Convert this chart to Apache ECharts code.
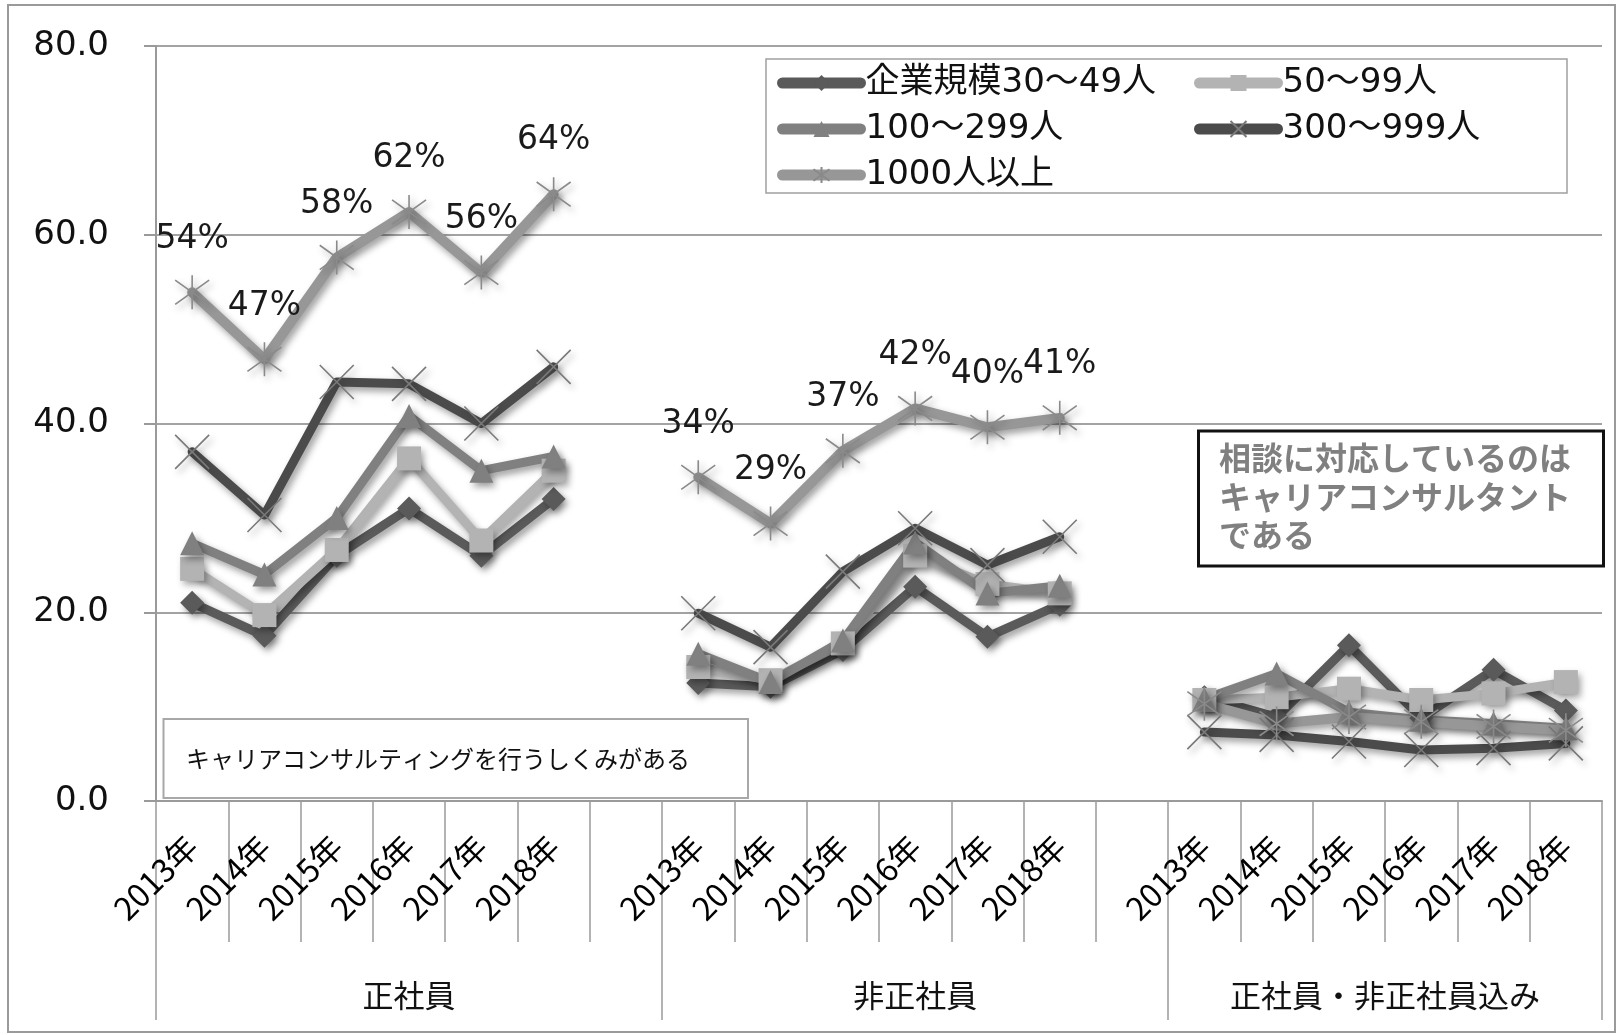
<!DOCTYPE html>
<html>
<head>
<meta charset="utf-8">
<script src="https://cdn.jsdelivr.net/npm/echarts@6/dist/echarts.min.js"></script>
<style>
  html, body { margin: 0; padding: 0; background: #fff; }
  #chart { width: 1623px; height: 1035px; }
</style>
</head>
<body>
<div id="chart"></div>
<script>
// Survey years, repeated for each employee group with a blank slot between groups
const years = ['2013年', '2014年', '2015年', '2016年', '2017年', '2018年'];
const categories = [...years, '', ...years, '', ...years];
const groupNames = ['正社員', '非正社員', '正社員・非正社員込み'];

// Share of companies (%) by company size; null marks the gap between groups
const size30to49   = [21.0, 17.5, 26.0, 31.0, 26.0, 32.0, null, 12.5, 12.1, 16.0, 22.7, 17.4, 20.8, null, 11.0,  8.9, 16.5,  8.8, 13.9,  9.6];
const size50to99   = [24.6, 19.7, 26.6, 36.3, 27.6, 35.0, null, 14.2, 12.8, 16.7, 26.0, 23.0, 22.0, null, 10.7, 11.0, 11.9, 10.7, 11.4, 12.6];
const size100to299 = [27.3, 24.0, 30.0, 40.8, 35.0, 36.5, null, 15.6, 12.6, 17.0, 27.4, 22.0, 22.8, null, 10.8, 13.5,  9.4,  8.6,  8.2,  7.7];
const size300to999 = [37.0, 30.3, 44.4, 44.2, 40.0, 46.0, null, 19.9, 16.3, 24.3, 28.9, 25.0, 28.0, null,  7.3,  7.0,  6.3,  5.4,  5.6,  6.1];
const size1000plus = [53.9, 46.8, 57.6, 62.4, 56.0, 64.3, null, 34.3, 29.4, 37.1, 41.6, 39.6, 40.6, null, 10.3,  8.2,  8.9,  8.4,  7.9,  7.5];

const seriesNames = ['企業規模30～49人', '50～99人', '100～299人', '300～999人', '1000人以上'];

// Category slots that carry the group captions under the year labels
const groupAxisData = categories.map(() => '');
groupAxisData[3] = groupNames[0];
groupAxisData[10] = groupNames[1];
groupAxisData[16] = { value: groupNames[2], textStyle: { padding: [0, 0, 0, 72] } };

const JP = '"Noto Sans CJK JP", sans-serif';
const NUM = '"DejaVu Sans", "Noto Sans CJK JP", sans-serif';

const shadow = { shadowColor: 'rgba(0,0,0,0.38)', shadowBlur: 7, shadowOffsetX: 3, shadowOffsetY: 4 };
const crossPath = 'path://M0,0L10,10M10,0L0,10';
const starPath = 'path://M0,1L10,11M10,1L0,11M5,-1L5,13';

function lineSeries(name, data, color, lineWidth, symbol, symbolSize, itemStyle, extra) {
  return Object.assign({
    name: name,
    type: 'line',
    data: data,
    connectNulls: false,
    symbol: symbol,
    symbolSize: symbolSize,
    lineStyle: Object.assign({ color: color, width: lineWidth, cap: 'round', join: 'round' }, shadow),
    itemStyle: Object.assign({}, itemStyle, shadow),
    emphasis: { disabled: true },
    animation: false
  }, extra || {});
}

const legendCommon = {
  orient: 'vertical', top: 60, itemGap: 10,
  itemWidth: 78, itemHeight: 20, selectedMode: false,
  lineStyle: { width: 11, cap: 'round' },
  textStyle: { fontSize: 34, fontFamily: NUM, color: '#111', lineHeight: 36 }
};

const chart = echarts.init(document.getElementById('chart'), null, { renderer: 'canvas' });

chart.setOption({
  backgroundColor: '#fff',
  animation: false,
  grid: { left: 156, right: 21, top: 46, bottom: 234, containLabel: false },
  legend: [
    Object.assign({ data: [seriesNames[0], seriesNames[2], seriesNames[4]], left: 772 }, legendCommon),
    Object.assign({ data: [seriesNames[1], seriesNames[3]], left: 1189 }, legendCommon)
  ],
  xAxis: [
    {
      type: 'category',
      data: categories,
      boundaryGap: true,
      axisLine: { lineStyle: { color: '#9a9a9a', width: 2 } },
      axisTick: { show: true, interval: 0, length: 141, lineStyle: { color: '#9a9a9a', width: 1.5 } },
      axisLabel: { interval: 0, rotate: 45, margin: 40, fontSize: 32, fontFamily: JP, color: '#000' },
      splitLine: { show: false }
    },
    {
      type: 'category',
      data: groupAxisData,
      position: 'bottom',
      boundaryGap: true,
      axisLine: { show: false },
      axisTick: {
        show: true, length: 219,
        interval: function (index) { return index === 0 || index === 7 || index === 14; },
        lineStyle: { color: '#9a9a9a', width: 1.5 }
      },
      axisLabel: { interval: 0, margin: 179, fontSize: 31, fontFamily: JP, color: '#111' },
      splitLine: { show: false }
    }
  ],
  yAxis: {
    type: 'value',
    min: 0, max: 80, interval: 20,
    axisLine: { show: true, lineStyle: { color: '#9a9a9a', width: 2 } },
    axisTick: { show: true, length: 12, lineStyle: { color: '#9a9a9a', width: 2 } },
    axisLabel: { margin: 47, fontSize: 34, fontFamily: NUM, color: '#111', formatter: v => v.toFixed(1) },
    splitLine: { lineStyle: { color: '#a3a3a3', width: 2 } }
  },
  series: [
    lineSeries(seriesNames[0], size30to49, '#5a5a5a', 9, 'diamond', 24, { color: '#5a5a5a' }),
    lineSeries(seriesNames[1], size50to99, '#b3b3b3', 9, 'rect', 24, { color: '#b3b3b3' }),
    lineSeries(seriesNames[2], size100to299, '#808080', 9, 'triangle', 24, { color: '#808080' }),
    lineSeries(seriesNames[3], size300to999, '#4b4b4b', 9, crossPath, 34,
      { color: '#4b4b4b', borderColor: '#7a7a7a', borderWidth: 1.6 }),
    lineSeries(seriesNames[4], size1000plus, '#979797', 10, starPath, 34,
      { color: '#979797', borderColor: '#8a8a8a', borderWidth: 1.6 },
      {
        label: {
          show: true, position: 'top', distance: 19,
          fontSize: 33, fontFamily: NUM, color: '#1a1a1a',
          formatter: p => (p.dataIndex < 14 && p.value != null) ? Math.round(p.value) + '%' : ''
        }
      })
  ],
  graphic: [
    // outer frame
    { type: 'rect', z: 0, silent: true, shape: { x: 8, y: 5, width: 1607, height: 1027 },
      style: { fill: 'none', stroke: '#9a9a9a', lineWidth: 2 } },
    // legend frame
    { type: 'rect', z: 1, silent: true, shape: { x: 766, y: 59, width: 801, height: 134 },
      style: { fill: 'rgba(255,255,255,0)', stroke: '#a0a0a0', lineWidth: 1.5 } },
    // caption for the left panel
    { type: 'group', z: 20, silent: true, children: [
      { type: 'rect', shape: { x: 163.5, y: 719, width: 584.5, height: 79 },
        style: { fill: '#fff', stroke: '#a8a8a8', lineWidth: 2 } },
      { type: 'text', x: 186, y: 759,
        style: { text: 'キャリアコンサルティングを行うしくみがある', fontSize: 24, fontFamily: JP,
                 fill: '#111', verticalAlign: 'middle', align: 'left' } }
    ]},
    // note box on the right
    { type: 'group', z: 20, silent: true, children: [
      { type: 'rect', shape: { x: 1198.5, y: 431, width: 405, height: 135 },
        style: { fill: '#fff', stroke: '#111', lineWidth: 3 } },
      { type: 'text', x: 1219, y: 439,
        style: { text: '相談に対応しているのは\nキャリアコンサルタント\nである', fontSize: 32,
                 fontWeight: 'bold', fontFamily: JP, fill: '#808080', lineHeight: 38.5,
                 verticalAlign: 'top', align: 'left' } }
    ]}
  ]
});
</script>
</body>
</html>
